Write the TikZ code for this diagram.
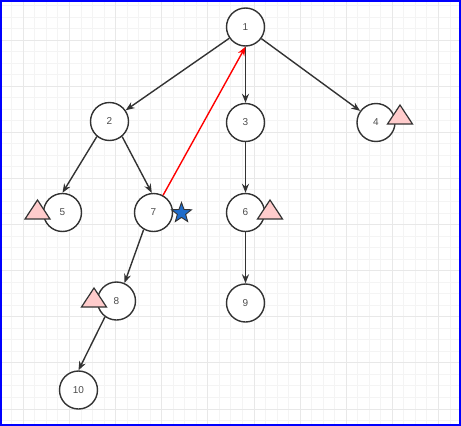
\documentclass[tikz,border=0pt]{standalone}
\usepackage{fontspec}
\setmainfont{Liberation Sans}
\usetikzlibrary{arrows.meta,shapes.geometric}
\definecolor{edgegray}{HTML}{333333}
\definecolor{tripink}{HTML}{FFCCCC}
\definecolor{starblue}{HTML}{1E6CCB}
\definecolor{gridminor}{HTML}{F4F4F4}
\definecolor{gridmajor}{HTML}{E8E8E8}

\begin{document}
\begin{tikzpicture}[x=1pt, y=-1pt,
    vnode/.style={circle, draw=edgegray, line width=1.4pt, fill=white,
      minimum size=38pt, inner sep=0pt, text=black!70,
      font=\fontsize{10}{12}\selectfont},
    tree/.style={draw=edgegray, line width=1.4pt,
      -{Stealth[length=9pt, width=7pt]}},
    back/.style={draw=red, line width=1.4pt,
      -{Stealth[length=9pt, width=7pt]}},
    marktri/.style={draw=edgegray, line width=1.2pt, fill=tripink,
      line join=miter},
    markstar/.style={star, star points=5, star point ratio=2.4,
      draw=edgegray, line width=0.9pt, fill=starblue,
      minimum size=21pt, inner sep=0pt}]
  \useasboundingbox (0,0) rectangle (461,426);
  % background grid
  \foreach \k in {0,...,39} {
    \draw[gridminor, line width=0.8pt] (0.24+11.53*\k,0) -- (0.24+11.53*\k,426);
    \draw[gridminor, line width=0.8pt] (0,5.4+11.53*\k) -- (461,5.4+11.53*\k);
  }
  \foreach \k in {0,...,9} {
    \draw[gridmajor, line width=0.8pt] (23.3+46.12*\k,0) -- (23.3+46.12*\k,426);
    \draw[gridmajor, line width=0.8pt] (0,40+46.12*\k) -- (461,40+46.12*\k);
  }
  \draw[blue, line width=2pt] (1,1) rectangle (460,425);

  % tree nodes
  \node[vnode] (n1) at (245.5,27) {1};
  \node[vnode] (n2) at (109.5,121.5) {2};
  \node[vnode] (n3) at (245.5,122.5) {3};
  \node[vnode] (n4) at (376,122.5) {4};
  \node[vnode] (n5) at (62.5,212.5) {5};
  \node[vnode] (n7) at (153.5,212.5) {7};
  \node[vnode] (n6) at (245.5,212.5) {6};
  \node[vnode] (n8) at (116.5,301) {8};
  \node[vnode] (n9) at (245.5,303) {9};
  \node[vnode] (n10) at (78.5,390) {10};

  % edges
  \draw[tree] (n1) -- (n2);
  \draw[tree] (n1) -- (n3);
  \draw[tree] (n1) -- (n4);
  \draw[tree] (n2.-130) -- (n5.north);
  \draw[tree] (n2.-50) -- (n7.95);
  \draw[tree] (n3) -- (n6);
  \draw[tree] (n6) -- (n9);
  \draw[tree] (n7.-120) -- (n8.66);
  \draw[tree] (n8.-126) -- (n10.north);
  \draw[back] (n7) -- (n1.south);

  % markers
  \foreach \ax/\ay in {37.5/200, 270/200, 400/105, 94/288}
    \draw[marktri] (\ax,\ay) -- ++(12.5,19) -- ++(-25,0) -- cycle;
  \node[markstar] (s7) at (181.5,213) {};
\end{tikzpicture}
\end{document}
